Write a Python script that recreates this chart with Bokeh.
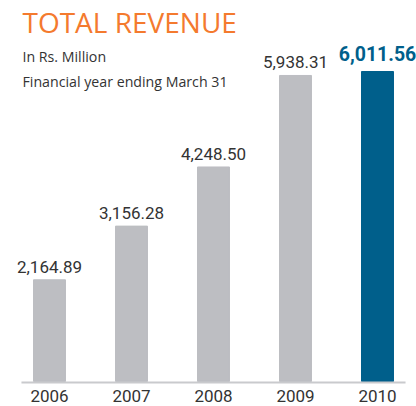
from bokeh.plotting import figure
from bokeh.models import ColumnDataSource, Range1d, Label, LabelSet
from bokeh.embed import file_html
from bokeh.resources import INLINE
from bokeh.core.properties import value

# ---- data ----
years = [2006, 2007, 2008, 2009, 2010]
year_labels = ["2006", "2007", "2008", "2009", "2010"]
revenue = [2164.89, 3156.28, 4248.50, 5938.31, 6011.56]
value_labels = ["2,164.89", "3,156.28", "4,248.50", "5,938.31", "6,011.56"]

GRAY = "#bdbec2"
BLUE = "#005f8b"
ORANGE = "#f47a2e"
TEXT = "#333333"
NUMFONT = value("Roboto")

BASE = 287       # value at the drawn baseline
PAD = 0.342      # baseline overhang beyond the outer bar centres (in category steps)

p = figure(width=416, height=406, output_backend="svg", toolbar_location=None,
           x_range=Range1d(2005.4024, 2010.4756), y_range=Range1d(-175, 7323),
           x_axis_location=None, y_axis_location=None,
           min_border_left=0, min_border_right=0, min_border_top=0, min_border_bottom=0)
p.grid.visible = False
p.outline_line_color = None
p.background_fill_color = "white"
p.border_fill_color = "white"

colors = [GRAY] * (len(years) - 1) + [BLUE]
src = ColumnDataSource(dict(x=years, top=revenue, color=colors, lab=value_labels,
                            yl=year_labels, base=[BASE] * len(years)))
p.vbar(x="x", top="top", bottom=BASE, width=0.39, color="color", source=src)

# baseline (category axis line)
p.segment(x0=[years[0] - PAD], x1=[years[-1] + PAD], y0=[BASE - 18], y1=[BASE - 18],
          line_color="#c9cacd", line_width=2)

gsrc = ColumnDataSource(dict(x=years[:-1], y=revenue[:-1], lab=value_labels[:-1]))
bsrc = ColumnDataSource(dict(x=years[-1:], y=revenue[-1:], lab=value_labels[-1:]))
p.add_layout(LabelSet(x="x", y="y", text="lab", source=gsrc, y_offset=7,
                      text_align="center", text_baseline="alphabetic",
                      text_font=NUMFONT, text_font_size="17px", text_color=TEXT))
p.add_layout(LabelSet(x="x", y="y", text="lab", source=bsrc, y_offset=11,
                      text_align="center", text_baseline="alphabetic",
                      text_font=NUMFONT, text_font_size="19.5px", text_font_style="bold",
                      text_color=BLUE))
p.add_layout(LabelSet(x="x", y="base", text="yl", source=src, y_offset=-21,
                      text_align="center", text_baseline="alphabetic",
                      text_font=NUMFONT, text_font_size="17px", text_color=TEXT))

p.add_layout(Label(x=22, y=385, x_units="screen", y_units="screen", text="TOTAL REVENUE",
                   text_font="Open Sans", text_font_size="28px", text_color=ORANGE,
                   text_baseline="alphabetic"))
p.add_layout(Label(x=22, y=350, x_units="screen", y_units="screen", text="In Rs. Million",
                   text_font="Open Sans", text_font_size="14.2px", text_color=TEXT,
                   text_baseline="alphabetic"))
p.add_layout(Label(x=22, y=325, x_units="screen", y_units="screen", text="Financial year ending March 31",
                   text_font="Open Sans", text_font_size="14.2px", text_color=TEXT,
                   text_baseline="alphabetic"))

open("out.html", "w").write(file_html(p, INLINE))
